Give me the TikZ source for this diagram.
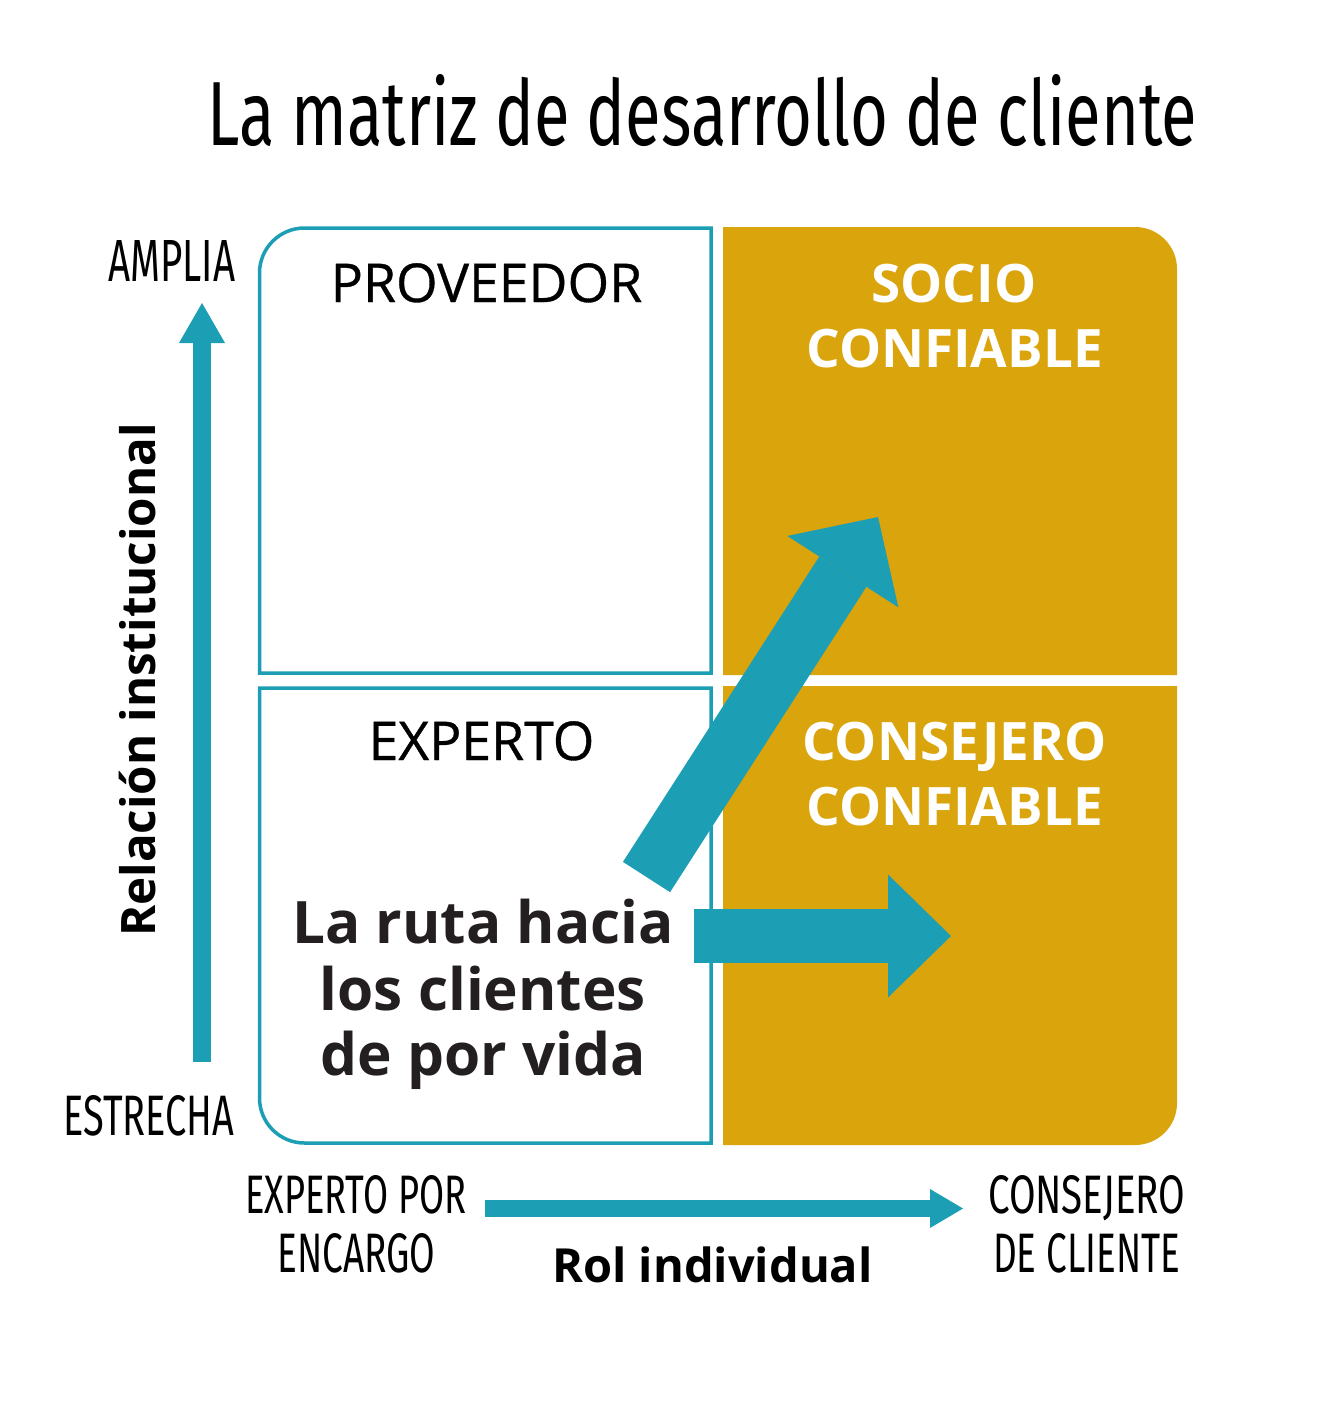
\documentclass[tikz,border=0pt]{standalone}
\usepackage{fontspec}
\usepackage{graphicx}
\setmainfont{Open Sans}
\newfontfamily\condfont{Fira Sans}
\newfontfamily\medfont[FakeBold=0.6]{Open Sans}
\usetikzlibrary{arrows.meta}
\definecolor{myteal}{RGB}{28,158,180}
\definecolor{mygold}{RGB}{218,164,12}
\definecolor{ink}{RGB}{35,31,32}
\newcommand{\cnd}[3]{\resizebox{#1pt}{#2pt}{\condfont #3}}
\tikzset{
  frame/.style={draw=myteal, line width=3.5pt},
  goldbox/.style={fill=mygold},
  cond/.style={inner sep=0pt, anchor=base west, text=black},
  quad/.style={inner sep=0pt, anchor=base, text=black, font=\fontsize{53.5}{60}\medfont},
  quadw/.style={inner sep=0pt, anchor=base, text=white, font=\fontsize{53}{60}\selectfont\bfseries},
  route/.style={inner sep=0pt, anchor=base, text=ink, font=\fontsize{58.5}{66}\selectfont\bfseries},
  axislabel/.style={inner sep=0pt, anchor=base, text=black, font=\fontsize{#1}{#1}\selectfont\bfseries},
  fatarrow/.style n args={3}{draw=myteal, line width=#1pt, -{Triangle[width=#2pt,length=#3pt,line width=0pt]}}
}
\begin{document}
\begin{tikzpicture}[x=1pt,y=-1pt]
\fill[white] (0,0) rectangle (1317,1410);
\useasboundingbox (0,0) rectangle (1317,1410);

% title
\node[cond] (title) at (207,146) {\cnd{990}{71}{La matriz de desarrollo de cliente}};

% quadrants
\fill[goldbox] (723,227) -- (1135,227) arc[start angle=270,end angle=360,radius=42] -- (1177,675) -- (723,675) -- cycle;
\fill[goldbox] (723,686) -- (1177,686) -- (1177,1103) arc[start angle=0,end angle=90,radius=42] -- (723,1145) -- cycle;
\draw[frame] (711,673) -- (259.5,673) -- (259.5,273) arc[start angle=180,end angle=270,radius=45] -- (711,228) -- cycle;
\draw[frame] (259.5,688) -- (711,688) -- (711,1143) -- (304.5,1143) arc[start angle=90,end angle=180,radius=45] -- cycle;

% quadrant labels
\node[quad] (prov) at (486.5,302) {PROVEEDOR};
\node[quadw] (socio) at (954,302) {SOCIO};
\node[quadw] (socio2) at (954.5,367) {CONFIABLE};
\node[quad] (exp) at (481.5,760) {EXPERTO};
\node[quadw] (cons) at (954.5,760) {CONSEJERO};
\node[quadw] (cons2) at (954.5,825) {CONFIABLE};

% route text
\node[route] (r1) at (483,943) {La ruta hacia};
\node[route] (r2) at (483,1010) {los clientes};
\node[route] (r3) at (483,1075) {de por vida};

% big arrows
\coordinate (dS) at (646.5,877);
\coordinate (dE) at (878,517);
\draw[fatarrow={56}{132}{65}] (dS) -- (dE);
\coordinate (hS) at (694,936);
\coordinate (hE) at (951,936);
\draw[fatarrow={54}{123}{63}] (hS) -- (hE);

% vertical axis
\node[cond] (ampl) at (108,281) {\cnd{127}{41}{AMPLIA}};
\node[cond] (estr) at (63,1135) {\cnd{171}{40}{ESTRECHA}};
\coordinate (vS) at (202,1062);
\coordinate (vE) at (202,303);
\draw[fatarrow={18}{46}{40}] (vS) -- (vE);
\node[axislabel=47.5, rotate=90] (rel) at (155,680) {Relación institucional};

% horizontal axis
\node[cond] (ep1) at (245,1213) {\cnd{221}{38}{EXPERTO POR}};
\node[cond] (ep2) at (277,1272) {\cnd{158}{39}{ENCARGO}};
\node[cond] (cc1) at (988,1213) {\cnd{197}{38}{CONSEJERO}};
\node[cond] (cc2) at (993,1272) {\cnd{187}{39}{DE CLIENTE}};
\coordinate (xS) at (485,1208.5);
\coordinate (xE) at (963,1208.5);
\draw[fatarrow={17}{39}{33}] (xS) -- (xE);
\node[axislabel=47] (rol) at (712.5,1282) {Rol individual};
\end{tikzpicture}
\end{document}
